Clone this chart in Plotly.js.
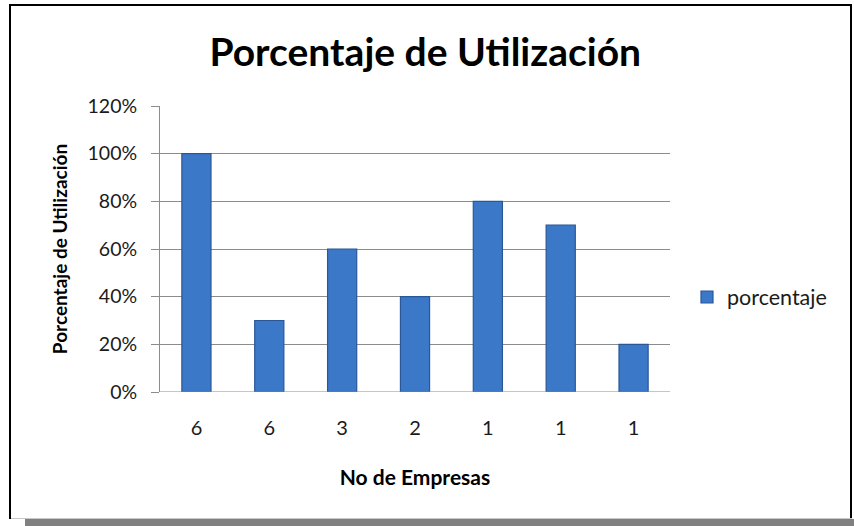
<!DOCTYPE html>
<html>
<head>
<meta charset="utf-8">
<script src="https://cdn.plot.ly/plotly-3.0.1.min.js"></script>
<style>
  html, body { margin: 0; padding: 0; background: #ffffff; }
  #wrap { position: relative; width: 854px; height: 526px; overflow: hidden; }
  #chart { position: absolute; left: 0; top: 0; width: 854px; height: 526px; }
  .frame { position: absolute; pointer-events: none; }
</style>
</head>
<body>
<div id="wrap">
  <div id="chart"></div>
  <div class="frame" style="left:9px; top:4px; width:843px; height:2px; background:#000;"></div>
  <div class="frame" style="left:9px; top:4px; width:2px; height:515px; background:#000;"></div>
  <div class="frame" style="left:850px; top:4px; width:2px; height:515px; background:#000;"></div>
  <div class="frame" style="left:11px; top:518px; width:841px; height:1px; background:#c8c8c8;"></div>
  <div class="frame" style="left:25px; top:519px; width:829px; height:7px; background:#808080;"></div>
</div>
<script>
const categories = ["6", "6", "3", "2", "1", "1", "1"];
const porcentaje = [1.00, 0.30, 0.60, 0.40, 0.80, 0.70, 0.20];
const seriesName = "porcentaje";
const yTickVals = [0, 0.2, 0.4, 0.6, 0.8, 1.0, 1.2];
const yTickText = ["0%", "20%", "40%", "60%", "80%", "100%", "120%"];

const positions = categories.map((c, i) => i);
const FONT = "Lato, 'Open Sans', sans-serif";

const trace = {
  type: "bar",
  x: positions,
  y: porcentaje,
  name: seriesName,
  showlegend: true,
  marker: { color: "#3b78c8", line: { color: "#2a5797", width: 1.2 } },
  hoverinfo: "y"
};

const layout = {
  width: 854, height: 526,
  paper_bgcolor: "#ffffff", plot_bgcolor: "#ffffff",
  margin: { l: 160, r: 184, t: 106, b: 134 },
  bargap: 0.6,
  title: {
    text: "<b>Porcentaje de Utilización</b>",
    font: { family: FONT, size: 39, color: "#000000" },
    xref: "container", x: 0.498, xanchor: "center",
    yref: "container", y: 1 - 52 / 526, yanchor: "middle"
  },
  xaxis: {
    tickmode: "array", tickvals: positions, ticktext: categories,
    range: [-0.5, 6.5],
    showgrid: false, zeroline: false,
    showline: false, ticks: "",
    tickfont: { family: FONT, size: 20, color: "#1a1a1a" },
    ticklabelstandoff: 22,
    title: { text: "<b>No de Empresas</b>", font: { family: FONT, size: 21, color: "#000000" }, standoff: 32 }
  },
  yaxis: {
    range: [0, 1.2],
    tickmode: "array", tickvals: yTickVals, ticktext: yTickText,
    showgrid: true, gridcolor: "#8c8c8c", gridwidth: 1,
    zeroline: false,
    showline: true, linecolor: "#8c8c8c", linewidth: 1,
    ticks: "outside", ticklen: 8, tickcolor: "#8c8c8c",
    tickfont: { family: FONT, size: 19.5, color: "#1a1a1a" },
    ticklabelstandoff: 10,
    title: { text: "<b>Porcentaje de Utilización</b>", font: { family: FONT, size: 19, color: "#000000" }, standoff: 14 }
  },
  showlegend: true,
  legend: {
    xref: "container", x: 687 / 854, xanchor: "left",
    yref: "container", y: 1 - 297 / 526, yanchor: "middle",
    font: { family: FONT, size: 21.5, color: "#1a1a1a" },
    bgcolor: "rgba(0,0,0,0)",
    itemwidth: 30
  },
  shapes: [
    { type: "line", xref: "paper", yref: "y", x0: 0, x1: 1, y0: 0, y1: 0, line: { color: "#8c8c8c", width: 1 } }
  ]
};

Plotly.newPlot("chart", [trace], layout, { displayModeBar: false, staticPlot: true });
</script>
</body>
</html>
